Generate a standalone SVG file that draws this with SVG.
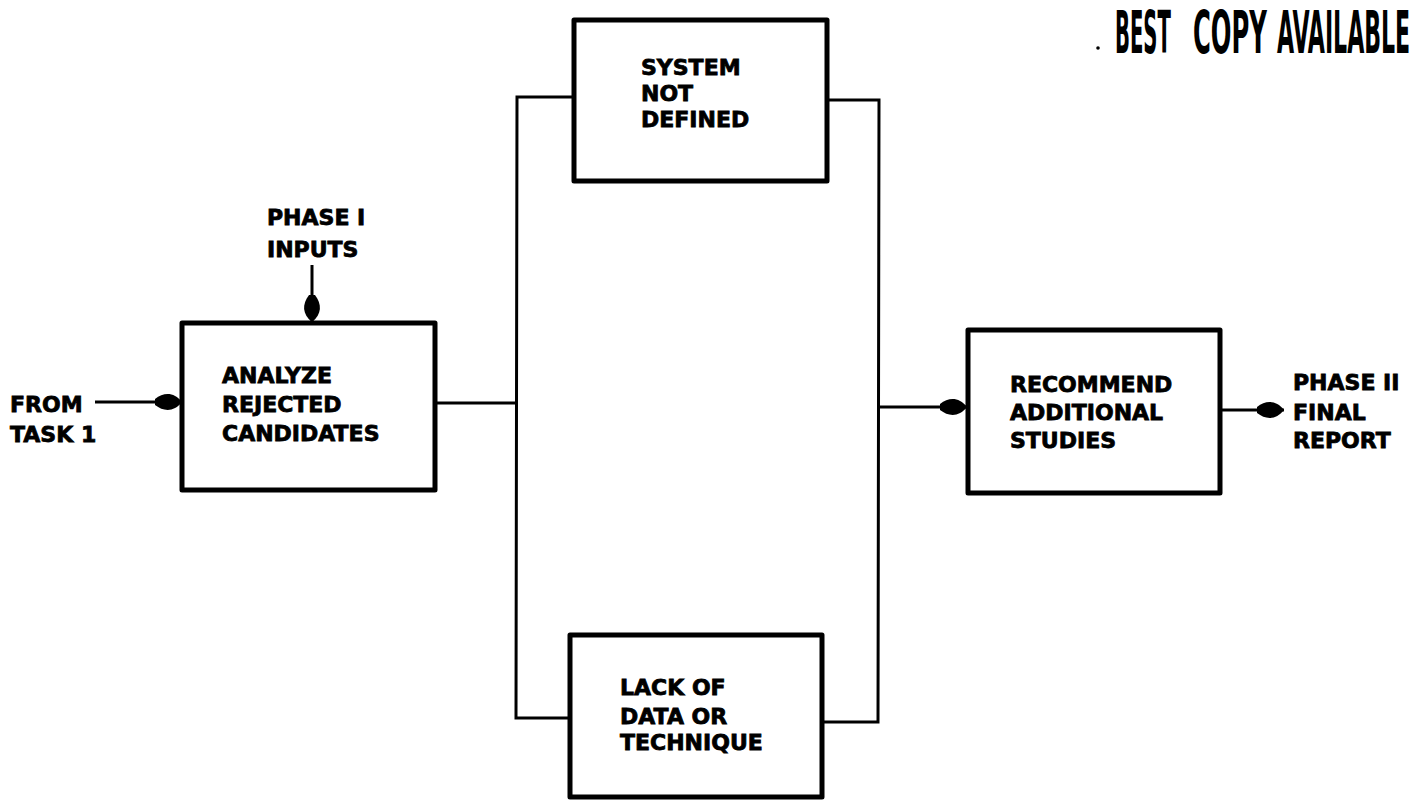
<svg xmlns="http://www.w3.org/2000/svg" width="1423" height="800" viewBox="0 0 1423 800">
<style>
.box{fill:#fff;stroke:#000;stroke-width:5;stroke-linejoin:round}
.lbl{font-family:"DejaVu Sans","Liberation Sans",sans-serif;font-weight:bold;font-size:22px;fill:#000;stroke:#000;stroke-width:0.8}
.con{fill:none;stroke:#000;stroke-width:3}
.stamp{font-family:"DejaVu Sans Condensed","DejaVu Sans","Liberation Sans",sans-serif;font-weight:bold;font-size:58px;fill:#000}
</style>
<defs>
<marker id="ah" markerUnits="userSpaceOnUse" orient="auto" viewBox="0 -10 28 20" refX="27" refY="0" markerWidth="28" markerHeight="20">
<path d="M0,-3 C9,-10 19,-10 27,0 C19,10 9,10 0,3 Z" fill="#000"/>
</marker>
</defs>
<rect width="1423" height="800" fill="#fff"/>
<g id="connectors">
<line class="con" x1="95" y1="402" x2="182" y2="402" marker-end="url(#ah)"/>
<line class="con" x1="312" y1="265" x2="312" y2="322" marker-end="url(#ah)"/>
<polyline class="con" points="435,403 517,403"/>
<polyline class="con" points="574,97 517,97 516,718 570,718"/>
<polyline class="con" points="827,100 879,100 878,722 822,722"/>
<line class="con" x1="878" y1="407" x2="967" y2="407" marker-end="url(#ah)"/>
<line class="con" x1="1220" y1="410" x2="1284" y2="410" marker-end="url(#ah)"/>
</g>
<g id="from-task1">
<text class="lbl" x="10" y="412">FROM</text>
<text class="lbl" x="10" y="442">TASK 1</text>
</g>
<g id="phase1-inputs">
<text class="lbl" x="267" y="225">PHASE I</text>
<text class="lbl" x="267" y="257">INPUTS</text>
</g>
<g id="analyze">
<rect class="box" x="182" y="323" width="253" height="167"/>
<text class="lbl" x="222" y="383">ANALYZE</text>
<text class="lbl" x="222" y="412">REJECTED</text>
<text class="lbl" x="222" y="441">CANDIDATES</text>
</g>
<g id="system-not-defined">
<rect class="box" x="574" y="20" width="253" height="161"/>
<text class="lbl" x="641" y="75">SYSTEM</text>
<text class="lbl" x="641" y="101">NOT</text>
<text class="lbl" x="641" y="127">DEFINED</text>
</g>
<g id="lack-of-data">
<rect class="box" x="570" y="635" width="252" height="162"/>
<text class="lbl" x="620" y="695">LACK OF</text>
<text class="lbl" x="620" y="724">DATA OR</text>
<text class="lbl" x="620" y="750">TECHNIQUE</text>
</g>
<g id="recommend">
<rect class="box" x="968" y="330" width="252" height="163"/>
<text class="lbl" x="1010" y="392">RECOMMEND</text>
<text class="lbl" x="1010" y="420">ADDITIONAL</text>
<text class="lbl" x="1010" y="448">STUDIES</text>
</g>
<g id="phase2-report">
<text class="lbl" x="1293" y="390">PHASE II</text>
<text class="lbl" x="1293" y="420">FINAL</text>
<text class="lbl" x="1293" y="448">REPORT</text>
</g>
<g id="stamp">
<circle cx="1098" cy="48" r="1.8" fill="#000"/>
<text class="stamp" transform="translate(1115,53) scale(0.42,1)" x="0" y="0" textLength="133" lengthAdjust="spacingAndGlyphs">BEST</text>
<text class="stamp" transform="translate(1193,53) scale(0.42,1)" x="0" y="0" textLength="176" lengthAdjust="spacingAndGlyphs">COPY</text>
<text class="stamp" transform="translate(1277,53) scale(0.42,1)" x="0" y="0" textLength="317" lengthAdjust="spacingAndGlyphs">AVAILABLE</text>
</g>
</svg>
